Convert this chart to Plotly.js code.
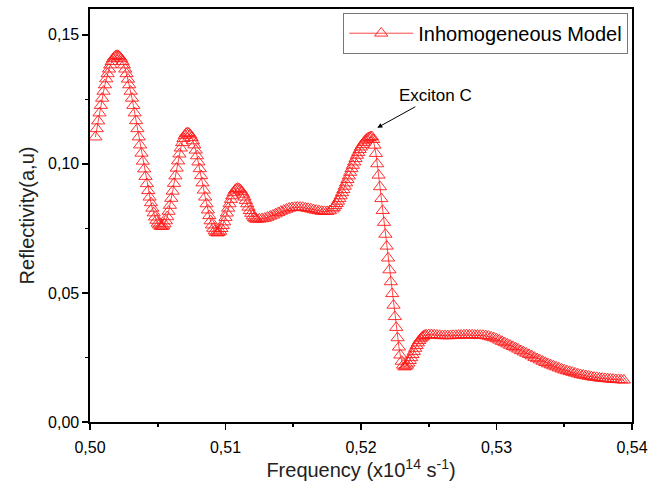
<!DOCTYPE html>
<html>
<head>
<meta charset="utf-8">
<script src="https://cdn.plot.ly/plotly-3.0.1.min.js"></script>
<style>html,body{margin:0;padding:0;background:#fff;}#chart{width:658px;height:490px;}</style>
</head>
<body>
<div id="chart"></div>
<script>
// Frequency (x10^14 s^-1)
const freq = [
0.5004,0.5005,0.5006,0.5007,0.5008,0.5009,0.5010,0.5011,0.5012,0.5013,0.5014,0.5015,0.5016,0.5017,0.5018,0.5019,0.5020,
0.5021,0.5022,0.5023,0.5024,0.5025,0.5026,0.5027,0.5028,0.5029,0.5030,0.5031,0.5032,0.5033,0.5034,0.5035,0.5036,0.5037,0.5038,0.5039,0.5040,
0.5041,0.5042,0.5043,0.5044,0.5045,0.5046,0.5047,0.5048,0.5049,0.5050,0.5051,0.5052,0.5053,
0.5054,0.5055,0.5056,0.5057,0.5058,0.5059,0.5060,0.5061,0.5062,0.5063,0.5064,0.5065,0.5066,0.5067,0.5068,0.5069,0.5070,0.5071,0.5072,
0.5073,0.5074,0.5075,0.5076,0.5077,0.5078,0.5079,0.5080,0.5081,0.5082,0.5083,0.5084,0.5085,0.5086,0.5087,0.5088,0.5089,0.5090,0.5091,0.5092,0.5093,0.5094,
0.5095,0.5096,0.5097,0.5098,0.5099,0.5100,0.5101,0.5102,0.5103,0.5104,0.5105,0.5106,0.5107,0.5108,0.5109,
0.5110,0.5111,0.5112,0.5113,0.5114,0.5115,0.5116,0.5117,0.5118,0.5119,0.5120,0.5121,0.5122,0.5123,
0.5125,0.5127,0.5129,0.5131,0.5133,0.5135,0.5137,0.5139,0.5141,0.5143,0.5145,0.5147,0.5149,0.5151,0.5153,
0.5155,0.5157,0.5159,0.5161,0.5163,0.5165,0.5167,0.5169,0.5171,0.5173,0.5175,0.5177,0.5179,
0.5180,0.5181,0.5182,0.5183,0.5184,0.5185,0.5186,0.5187,0.5188,0.5189,0.5190,0.5191,0.5192,0.5193,0.5194,0.5195,0.5196,0.5197,0.5198,0.5199,
0.5200,0.5201,0.5202,0.5203,0.5204,0.5205,0.5206,0.5207,0.5208,
0.5209,0.5210,0.5211,0.5212,0.5213,0.5214,0.5215,0.5216,0.5217,0.5218,0.5219,0.5220,0.5221,0.5222,0.5223,0.5224,0.5225,0.5226,0.5227,0.5228,0.5229,0.5230,0.5231,0.5232,
0.5233,0.5234,0.5235,0.5236,0.5237,0.5238,0.5239,0.5240,0.5241,0.5242,0.5243,0.5244,0.5245,0.5246,0.5247,0.5248,
0.5250,0.5252,0.5254,0.5256,0.5258,0.5260,0.5262,0.5264,0.5266,0.5268,0.5270,0.5272,0.5274,0.5276,0.5278,0.5280,0.5282,0.5284,0.5286,0.5288,
0.5290,0.5292,0.5294,0.5296,0.5298,0.5300,0.5302,0.5304,0.5306,0.5308,0.5310,0.5312,0.5314,0.5316,0.5318,0.5320,0.5322,0.5324,0.5326,0.5328,
0.5330,0.5332,0.5334,0.5336,0.5338,0.5340,0.5342,0.5344,0.5346,0.5348,0.5350,0.5352,0.5354,0.5356,0.5358,0.5360,0.5362,0.5364,0.5366,0.5368,
0.5370,0.5372,0.5374,0.5376,0.5378,0.5380,0.5382,0.5384,0.5386,0.5388,0.5390,0.5392,0.5394
];
// Reflectivity (a.u)
const refl = [
0.1104,0.1136,0.1166,0.1197,0.1226,0.1254,0.1281,0.1306,0.1329,0.1349,0.1367,0.1383,0.1396,0.1407,0.1414,0.1418,0.1420,
0.1418,0.1414,0.1407,0.1396,0.1383,0.1367,0.1349,0.1328,0.1306,0.1281,0.1254,0.1226,0.1197,0.1167,0.1136,0.1104,0.1073,0.1041,0.1010,0.0980,
0.0951,0.0923,0.0896,0.0871,0.0849,0.0828,0.0810,0.0794,0.0781,0.0770,0.0763,0.0758,0.0757,
0.0759,0.0767,0.0779,0.0795,0.0816,0.0839,0.0866,0.0894,0.0924,0.0953,0.0983,0.1011,0.1038,0.1061,0.1082,0.1098,0.1110,0.1118,0.1120,
0.1118,0.1112,0.1102,0.1089,0.1073,0.1053,0.1031,0.1007,0.0981,0.0954,0.0926,0.0898,0.0871,0.0845,0.0821,0.0799,0.0779,0.0763,0.0750,0.0740,0.0734,0.0732,
0.0734,0.0739,0.0749,0.0761,0.0775,0.0792,0.0809,0.0828,0.0845,0.0862,0.0876,0.0888,0.0898,0.0903,0.0905,
0.0903,0.0899,0.0892,0.0882,0.0871,0.0858,0.0845,0.0832,0.0819,0.0808,0.0798,0.0791,0.0787,0.0785,
0.0786,0.0787,0.0789,0.0793,0.0797,0.0801,0.0806,0.0811,0.0816,0.0820,0.0824,0.0828,0.0830,0.0831,0.0832,
0.0832,0.0831,0.0829,0.0827,0.0825,0.0822,0.0820,0.0818,0.0816,0.0815,0.0815,0.0818,0.0825,
0.0831,0.0838,0.0846,0.0855,0.0865,0.0876,0.0888,0.0900,0.0913,0.0926,0.0939,0.0953,0.0967,0.0981,0.0994,0.1007,0.1020,0.1033,0.1044,0.1055,
0.1065,0.1074,0.1082,0.1089,0.1095,0.1099,0.1102,0.1104,0.1105,
0.1094,0.1072,0.1040,0.1000,0.0956,0.0911,0.0865,0.0819,0.0773,0.0727,0.0681,0.0635,0.0589,0.0543,0.0497,0.0452,0.0408,0.0366,0.0326,0.0290,0.0259,0.0235,0.0220,0.0213,
0.0215,0.0220,0.0228,0.0238,0.0249,0.0261,0.0273,0.0285,0.0296,0.0306,0.0315,0.0322,0.0328,0.0332,0.0335,0.0337,
0.0338,0.0338,0.0337,0.0336,0.0335,0.0334,0.0334,0.0334,0.0334,0.0335,0.0335,0.0336,0.0336,0.0337,0.0337,0.0337,0.0337,0.0336,0.0336,0.0335,
0.0335,0.0334,0.0332,0.0329,0.0326,0.0322,0.0317,0.0312,0.0307,0.0302,0.0297,0.0292,0.0287,0.0282,0.0276,0.0271,0.0266,0.0261,0.0256,0.0250,
0.0245,0.0240,0.0235,0.0230,0.0225,0.0221,0.0217,0.0213,0.0209,0.0205,0.0201,0.0198,0.0195,0.0192,0.0189,0.0186,0.0183,0.0181,0.0179,0.0177,
0.0175,0.0173,0.0172,0.0170,0.0169,0.0168,0.0167,0.0166,0.0165,0.0164,0.0164,0.0163,0.0162
];
const seriesName = 'Inhomogeneous Model';
const annotText = 'Exciton C';
const annotX = 0.5212;
const annotY = 0.1140;

const FONT = 'Arial, "Liberation Sans", sans-serif';
const RED = '#ff1a1a';
const trace = {
  x: freq, y: refl, name: seriesName, type: 'scatter', mode: 'lines+markers',
  line: {color: RED, width: 0.8},
  marker: {symbol: 'triangle-up', size: 11.5, color: 'rgba(255,255,255,0)', line: {color: RED, width: 0.9}},
  showlegend: true
};
const axisCommon = {
  showline: true, linecolor: '#000', linewidth: 1.6, mirror: true,
  showgrid: false, zeroline: false, ticks: 'outside', ticklen: 6, tickwidth: 1.6, tickcolor: '#000',
  tickfont: {family: FONT, size: 16, color: '#000'}, tickformat: '.2f'
};
const layout = {
  width: 658, height: 490,
  margin: {l: 90, r: 26, t: 9, b: 68},
  paper_bgcolor: '#fff', plot_bgcolor: '#fff',
  separators: ',.',
  font: {family: FONT, color: '#000'},
  xaxis: Object.assign({}, axisCommon, {
    range: [0.50, 0.54], tick0: 0.50, dtick: 0.01, ticklabelstandoff: 4,
    minor: {dtick: 0.005, ticks: 'outside', ticklen: 3, tickwidth: 1.6, tickcolor: '#000', showgrid: false},
    title: {text: 'Frequency (x10<sup>14</sup> s<sup>-1</sup>)\u00a0\u00a0', font: {family: FONT, size: 20, color: '#222'}, standoff: 4}
  }),
  yaxis: Object.assign({}, axisCommon, {
    range: [0, 0.16], tick0: 0, dtick: 0.05, ticklabelstandoff: 0,
    minor: {dtick: 0.025, ticks: 'outside', ticklen: 3, tickwidth: 1.6, tickcolor: '#000', showgrid: false},
    title: {text: 'Reflectivity(a,u)\u00a0\u00a0\u00a0\u00a0\u00a0', font: {family: FONT, size: 20, color: '#222'}, standoff: 8}
  }),
  legend: {
    x: 0.993, xanchor: 'right', y: 0.991, yanchor: 'top',
    bordercolor: '#777', borderwidth: 1, bgcolor: '#fff', itemwidth: 64,
    font: {family: FONT, size: 20, color: '#000'}
  },
  annotations: [{
    x: annotX, y: annotY, xref: 'x', yref: 'y', text: annotText,
    showarrow: true, arrowhead: 2, arrowsize: 1, arrowwidth: 1, arrowcolor: '#000',
    ax: 58, ay: -32, font: {family: FONT, size: 17, color: '#000'}
  }]
};
Plotly.newPlot('chart', [trace], layout, {displayModeBar: false, staticPlot: true});
</script>
</body>
</html>
